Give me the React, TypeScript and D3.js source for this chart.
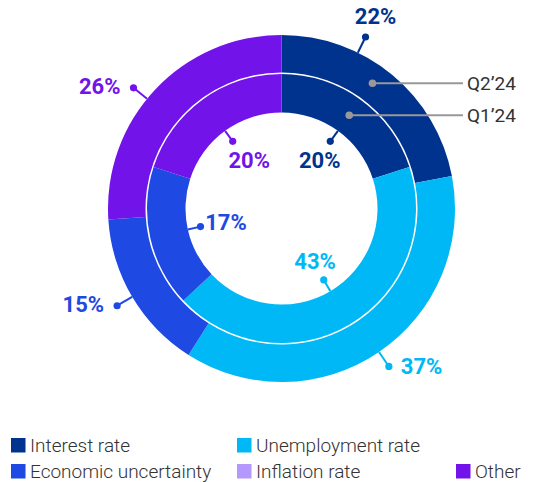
import React from 'react'
import * as d3 from 'd3'

// data
const categories = ['Interest rate', 'Unemployment rate', 'Economic uncertainty', 'Inflation rate', 'Other']
const colors = ['#00338D', '#00B8F5', '#1E49E2', '#B497FF', '#7213EA']
const q2Values = [22, 37, 15, 0, 26] // outer ring
const q1Values = [20, 43, 17, 0, 20] // inner ring
const ringLabels = ['Q2’24', 'Q1’24']
const legendRows = [
  ['Interest rate', 'Unemployment rate'],
  ['Economic uncertainty', 'Inflation rate', 'Other'],
]

const W = 550
const H = 482
const cx = 281.5
const cy = 208.5
const outerR = [136, 173.5]
const innerR = [96, 134.5]
const labelFont = 'Roboto, "Liberation Sans", Arial, sans-serif'

// outer label on the interest slice is moved up so it clears the callouts
const outerNudge: Record<string, number> = { 'Interest rate': -13.5, Other: -4 }

const color = d3.scaleOrdinal<string, string>().domain(categories).range(colors)

const pie = d3
  .pie<number>()
  .sort(null)
  .value((d) => d)
  .startAngle(0)
  .endAngle(2 * Math.PI)

const polar = (a: number, r: number) => [cx + Math.sin(a) * r, cy - Math.cos(a) * r]

export default function App() {
  const outerArcs = pie(q2Values)
  const innerArcs = pie(q1Values)
  const arcOuter = d3.arc<d3.PieArcDatum<number>>().innerRadius(outerR[0]).outerRadius(outerR[1])
  const arcInner = d3.arc<d3.PieArcDatum<number>>().innerRadius(innerR[0]).outerRadius(innerR[1])

  const mid = (d: d3.PieArcDatum<number>) => (d.startAngle + d.endAngle) / 2

  // callouts sit on the interest rate slice of the inner ring
  const calloutAngle = mid(innerArcs[0])
  const calloutR = [(outerR[0] + outerR[1]) / 2, (innerR[0] + innerR[1]) / 2]

  const legendX = d3.scaleOrdinal<number, number>().domain([0, 1, 2]).range([11, 237, 456])
  const legendY = d3.scaleOrdinal<number, number>().domain([0, 1]).range([438, 464])

  return (
    <svg width={W} height={H} style={{ position: 'absolute', left: 0, top: 0 }}>
      <g>
        {outerArcs.map((d, i) => (
          <path key={'o' + i} d={arcOuter(d) || ''} fill={color(categories[i])} transform={`translate(${cx},${cy})`} />
        ))}
        {innerArcs.map((d, i) => (
          <path key={'i' + i} d={arcInner(d) || ''} fill={color(categories[i])} transform={`translate(${cx},${cy})`} />
        ))}
      </g>

      {/* outer labels */}
      {outerArcs.map((d, i) => {
        if (!d.value) return null
        const a = mid(d) + ((outerNudge[categories[i]] || 0) * Math.PI) / 180
        const [x0, y0] = polar(a, outerR[1])
        const [x1, y1] = polar(a, 191)
        const s = Math.sin(a)
        const c = color(categories[i])
        let tx = x1
        let ty = y1
        let anchor = 'middle'
        if (Math.abs(s) < 0.5) {
          tx = x1 + 10
          ty = y1 - 20 * Math.sign(Math.cos(a))
        } else if (s > 0) {
          tx = x1 + 12
          anchor = 'start'
        } else {
          tx = x1 - 13
          ty = y1 - 1
          anchor = 'end'
        }
        return (
          <g key={'ol' + i}>
            <line x1={x0} y1={y0} x2={x1} y2={y1} stroke={c} strokeWidth={2} />
            <circle cx={x1} cy={y1} r={3.6} fill={c} />
            <text x={tx} y={ty} textAnchor={anchor} dominantBaseline="central" fill={c} fontFamily={labelFont} fontWeight={700} fontSize={22}>
              {d.value}%
            </text>
          </g>
        )
      })}

      {/* inner labels */}
      {innerArcs.map((d, i) => {
        if (!d.value) return null
        const a = mid(d)
        const [x0, y0] = polar(a, innerR[0])
        const [x1, y1] = polar(a, 83)
        const [tx, ty] = polar(a, 60)
        const c = color(categories[i])
        return (
          <g key={'il' + i}>
            <line x1={x0} y1={y0} x2={x1} y2={y1} stroke={c} strokeWidth={2} />
            <circle cx={x1} cy={y1} r={3.6} fill={c} />
            <text x={tx + 3} y={ty + 1} textAnchor="middle" dominantBaseline="central" fill={c} fontFamily={labelFont} fontWeight={700} fontSize={22}>
              {d.value}%
            </text>
          </g>
        )
      })}

      {/* ring callouts */}
      {ringLabels.map((lab, i) => {
        const [x, y] = polar(calloutAngle, calloutR[i])
        return (
          <g key={lab}>
            <line x1={x} y1={y} x2={463} y2={y} stroke="#999999" strokeWidth={2} />
            <circle cx={x} cy={y} r={3.8} fill="#999999" />
            <text x={467} y={y} dominantBaseline="central" fill="#333333" fontFamily={labelFont} fontSize={19}>
              {lab}
            </text>
          </g>
        )
      })}

      {/* legend */}
      {legendRows.map((row, ri) =>
        row.map((name, ci) => (
          <g key={name} transform={`translate(${legendX(ci)},${legendY(ri)})`}>
            <rect width={14.5} height={14.5} fill={color(name)} />
            <text x={19} y={7.5} dominantBaseline="central" fill="#333333" fontFamily={labelFont} fontWeight={300} fontSize={19}>
              {name}
            </text>
          </g>
        ))
      )}
    </svg>
  )
}
